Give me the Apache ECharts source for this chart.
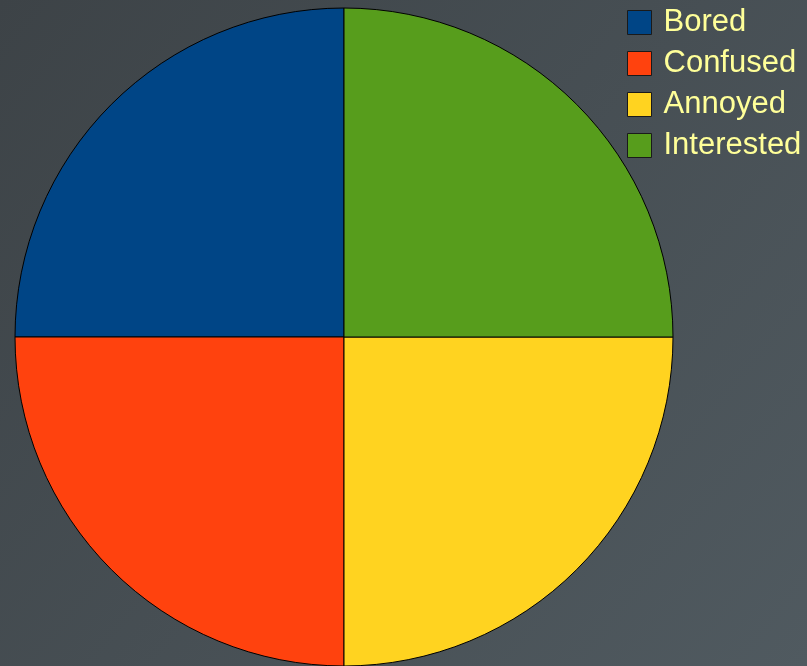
<!DOCTYPE html>
<html><head><meta charset="utf-8">
<script src="https://cdn.jsdelivr.net/npm/echarts@6/dist/echarts.min.js"></script>
<style>html,body{margin:0;padding:0;}#c{width:807px;height:666px;}</style>
</head><body><div id="c"></div>
<script>
const categories = ["Bored", "Confused", "Annoyed", "Interested"];
const values = [25, 25, 25, 25];
const colors = ["#004586", "#ff420e", "#ffd320", "#579d1c"];

const chart = echarts.init(document.getElementById('c'), null, {renderer: 'canvas'});
chart.setOption({
  animation: false,
  backgroundColor: {
    type: 'linear', x: 0, y: 0, x2: 1, y2: 1,
    colorStops: [{offset: 0, color: '#3d4347'}, {offset: 1, color: '#505a60'}]
  },
  color: colors,
  legend: {
    orient: 'vertical',
    left: 627, top: 7, padding: 0,
    itemWidth: 24, itemHeight: 24, itemGap: 10,
    icon: 'rect',
    itemStyle: {borderColor: '#1a1a1a', borderWidth: 1},
    textStyle: {
      color: '#ffff99', fontSize: 31, fontFamily: 'Liberation Sans',
      textShadowColor: '#111', textShadowOffsetX: 2, textShadowOffsetY: 2, textShadowBlur: 0,
      padding: [0, 0, 0, 7]
    },
    data: categories
  },
  series: [{
    type: 'pie',
    center: [344, 337],
    radius: [0, 329],
    startAngle: 90,
    clockwise: false,
    label: {show: false},
    labelLine: {show: false},
    emphasis: {disabled: true},
    itemStyle: {borderColor: '#000', borderWidth: 1},
    data: categories.map((n, i) => ({name: n, value: values[i]}))
  }]
});
</script></body></html>
